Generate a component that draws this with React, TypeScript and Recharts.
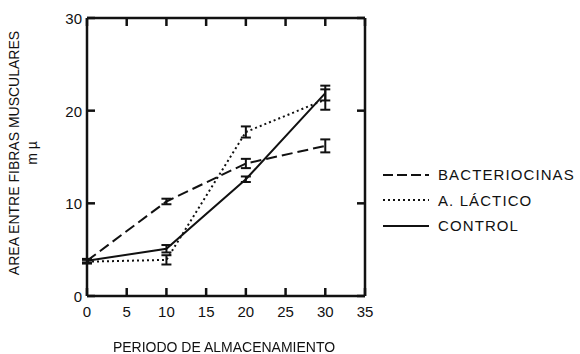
import React from 'react';
import { LineChart, Line, XAxis, YAxis, ErrorBar, Legend } from 'recharts';

// storage period (days)
const days = [0, 10, 20, 30];
const bacteriocinas = [3.8, 10.2, 14.3, 16.2];
const bacteriocinasErr = [0.2, 0.3, 0.5, 0.7];
const lactico = [3.7, 3.9, 17.7, 21.2];
const lacticoErr = [0.2, 0.5, 0.6, 1.1];
const control = [3.8, 5.1, 12.6, 21.9];
const controlErr = [0.2, 0.4, 0.3, 0.8];

const xTicks = [0, 5, 10, 15, 20, 25, 30, 35];
const yTicks = [0, 10, 20, 30];

const data = days.map((d, i) => ({
  day: d,
  bac: bacteriocinas[i],
  bacErr: bacteriocinasErr[i],
  lac: lactico[i],
  lacErr: lacticoErr[i],
  ctl: control[i],
  ctlErr: controlErr[i],
}));

const FONT = '"Liberation Sans", Arial, sans-serif';
const INK = '#111';
const TICK = 8;

const BottomTick = (props: any) => {
  const { x, y, payload } = props;
  return (
    <g>
      <line x1={x} y1={y} x2={x} y2={y - TICK} stroke={INK} strokeWidth={2.5} />
      <text x={x} y={y + 21} textAnchor="middle" fontSize={15} fontFamily={FONT} fill={INK}>
        {payload.value}
      </text>
    </g>
  );
};

const TopTick = (props: any) => {
  const { x, y } = props;
  return <line x1={x} y1={y} x2={x} y2={y + TICK} stroke={INK} strokeWidth={2.5} />;
};

const LeftTick = (props: any) => {
  const { x, y, payload } = props;
  return (
    <g>
      <line x1={x} y1={y} x2={x + TICK} y2={y} stroke={INK} strokeWidth={2.5} />
      <text x={x - 5} y={y + 6} textAnchor="end" fontSize={15} fontFamily={FONT} fill={INK}>
        {payload.value}
      </text>
    </g>
  );
};

const RightTick = (props: any) => {
  const { x, y } = props;
  return <line x1={x} y1={y} x2={x - TICK} y2={y} stroke={INK} strokeWidth={2.5} />;
};

const legendItems = [
  { name: 'BACTERIOCINAS', dash: '10 4' },
  { name: 'A. LÁCTICO', dash: '2 3' },
  { name: 'CONTROL', dash: undefined },
];

const LegendBox = () => (
  <div style={{ fontFamily: FONT, fontSize: 15, color: INK, letterSpacing: 1.1 }}>
    {legendItems.map((it) => (
      <div key={it.name} style={{ display: 'flex', alignItems: 'center', height: 25.5 }}>
        <svg width={46} height={6} style={{ marginRight: 9 }}>
          <line x1={0} y1={3} x2={46} y2={3} stroke={INK} strokeWidth={2} strokeDasharray={it.dash} />
        </svg>
        <span>{it.name}</span>
      </div>
    ))}
  </div>
);

const axisLine = { stroke: INK, strokeWidth: 2.5 };

export default function App() {
  return (
    <div style={{ position: 'fixed', left: 0, top: 0, width: 580, height: 354, background: '#fff' }}>
      <LineChart
        width={580}
        height={354}
        data={data}
        margin={{ top: 17, left: 86, right: 214, bottom: 57 }}
      >
        <XAxis
          dataKey="day"
          type="number"
          domain={[0, 35]}
          ticks={xTicks}
          height={1}
          tickSize={0}
          tickMargin={0}
          tickLine={false}
          tick={<BottomTick />}
          axisLine={axisLine}
          interval={0}
        />
        <XAxis
          xAxisId="top"
          dataKey="day"
          orientation="top"
          type="number"
          domain={[0, 35]}
          ticks={xTicks}
          height={1}
          tickSize={0}
          tickMargin={0}
          tickLine={false}
          tick={<TopTick />}
          axisLine={axisLine}
          interval={0}
        />
        <YAxis
          type="number"
          domain={[0, 30]}
          ticks={yTicks}
          width={1}
          tickSize={0}
          tickMargin={0}
          tickLine={false}
          tick={<LeftTick />}
          axisLine={axisLine}
          interval={0}
        />
        <YAxis
          yAxisId="right"
          orientation="right"
          type="number"
          domain={[0, 30]}
          ticks={yTicks}
          width={1}
          tickSize={0}
          tickMargin={0}
          tickLine={false}
          tick={<RightTick />}
          axisLine={axisLine}
          interval={0}
        />
        <Legend
          layout="vertical"
          align="center"
          verticalAlign="middle"
          content={<LegendBox />}
          wrapperStyle={{ position: 'absolute', left: 383, top: 162, width: 197, height: 80 }}
        />
        {/* invisible copy so the top/right frame axes get a series */}
        <Line
          xAxisId="top"
          yAxisId="right"
          dataKey="ctl"
          stroke="none"
          dot={false}
          activeDot={false}
          legendType="none"
          isAnimationActive={false}
        />
        <Line
          dataKey="bac"
          name="BACTERIOCINAS"
          stroke={INK}
          strokeWidth={2}
          strokeDasharray="11 5"
          dot={false}
          isAnimationActive={false}
        >
          <ErrorBar dataKey="bacErr" direction="y" width={5} stroke={INK} strokeWidth={2} />
        </Line>
        <Line
          dataKey="lac"
          name="A. LÁCTICO"
          stroke={INK}
          strokeWidth={2}
          strokeDasharray="2 3"
          dot={false}
          isAnimationActive={false}
        >
          <ErrorBar dataKey="lacErr" direction="y" width={5} stroke={INK} strokeWidth={2} />
        </Line>
        <Line
          dataKey="ctl"
          name="CONTROL"
          stroke={INK}
          strokeWidth={2}
          dot={false}
          isAnimationActive={false}
        >
          <ErrorBar dataKey="ctlErr" direction="y" width={5} stroke={INK} strokeWidth={2} />
        </Line>
      </LineChart>
      <div
        style={{
          position: 'absolute',
          left: 23,
          top: 153,
          transform: 'translate(-50%, -50%) rotate(-90deg)',
          whiteSpace: 'nowrap',
          fontFamily: FONT,
          fontSize: 14,
          color: INK,
          textAlign: 'center',
          lineHeight: '18px',
        }}
      >
        AREA ENTRE FIBRAS MUSCULARES
        <br />m µ
      </div>
      <div
        style={{
          position: 'absolute',
          left: 224,
          top: 347,
          transform: 'translate(-50%, -50%)',
          whiteSpace: 'nowrap',
          fontFamily: FONT,
          fontSize: 14,
          color: INK,
        }}
      >
        PERIODO DE ALMACENAMIENTO
      </div>
    </div>
  );
}
